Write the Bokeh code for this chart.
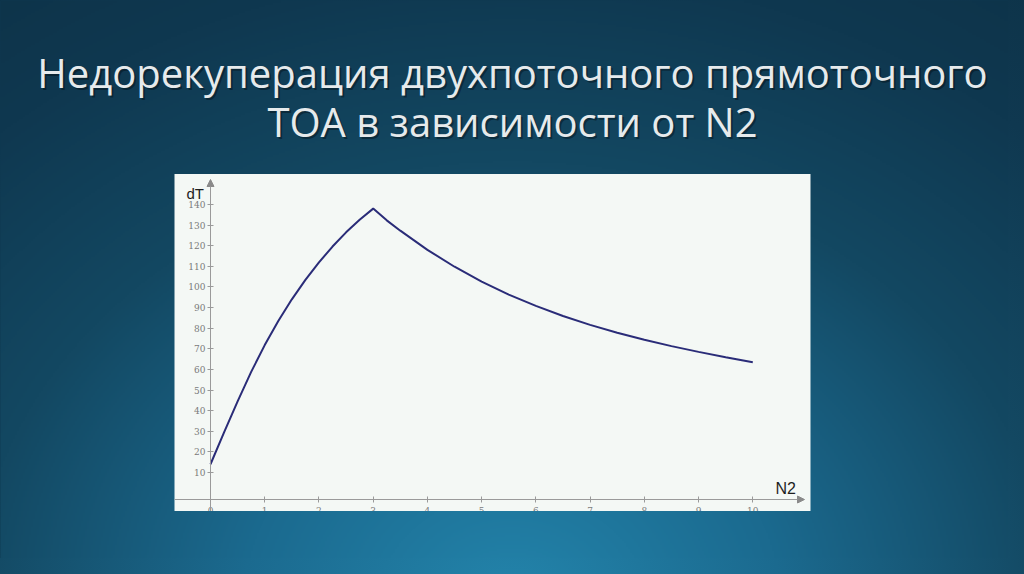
import numpy as np

from bokeh.plotting import figure
from bokeh.models import (LinearAxis, FixedTicker, Range1d, Arrow, NormalHead,
                          GlobalInlineStyleSheet)
from bokeh.core.properties import value
from bokeh.embed import file_html
from bokeh.resources import INLINE

# --- data ---
title_lines = ["Недорекуперация двухпоточного прямоточного",
               "ТОА в зависимости от N2"]
x_label = "N2"
y_label = "dT"

n2 = [0, 0.25, 0.5, 0.75, 1, 1.25, 1.5, 1.75, 2, 2.25, 2.5, 2.75, 3,
      3.25, 3.5, 4, 4.5, 5, 5.5, 6, 6.5, 7, 7.5, 8, 8.5, 9, 9.5, 10]
dT = [14, 29.5, 44.5, 58.8, 71.8, 83.5, 94, 103.4, 111.9, 119.6, 126.5, 132.6, 138,
      132.3, 127.3, 118, 109.8, 102.6, 96.3, 90.8, 85.9, 81.6, 77.8, 74.4, 71.3, 68.5,
      65.9, 63.5]

x_ticks = [0, 1, 2, 3, 4, 5, 6, 7, 8, 9, 10]
y_ticks = [10, 20, 30, 40, 50, 60, 70, 80, 90, 100, 110, 120, 130, 140]

# --- page geometry (page pixels -> data units) ---
W, H = 1008, 558
PX0, PX_PER = 210.0, 54.23     # page x of N2 = 0, pixels per unit
PY0, PY_PER = 492.6, 2.0615    # page y of dT = 0, pixels per unit


def dx(page_x):
    return (page_x - PX0) / PX_PER


def dy(page_y):
    return (PY0 - page_y) / PY_PER


def hex_rgb(h):
    return [int(h[i:i + 2], 16) for i in (1, 3, 5)]


grad_stops = [0.0, 0.35, 0.7, 1.0, 1.25]
grad_cols = [hex_rgb(c) for c in ["#2384ab", "#1b6a8f", "#134862", "#0f3850", "#0d3247"]]


def slide_rgba(px, py):
    # radial glow from the bottom centre of the slide
    u = px / 1024.0
    v = py / 574.0
    d = np.sqrt(((u - 0.5) / 0.75) ** 2 + ((v - 1.05) / 1.1) ** 2)
    img = np.empty(d.shape, dtype=np.uint32)
    view = img.view(dtype=np.uint8).reshape(d.shape + (4,))
    for ch in range(3):
        view[:, :, ch] = np.interp(d, grad_stops, [c[ch] for c in grad_cols]).astype(np.uint8)
    view[:, :, 3] = 255
    return img


p = figure(width=W, height=H, output_backend="svg", toolbar_location=None,
           x_range=Range1d(dx(0), dx(W)), y_range=Range1d(dy(H), dy(0)),
           x_axis_type=None, y_axis_type=None, min_border=0,
           border_fill_color="#0f3850", background_fill_color="#0f3850",
           outline_line_color=None)
p.stylesheets = [GlobalInlineStyleSheet(css=(
    "html, body { background: radial-gradient(75% 110% at 50% 105%, "
    "#2384ab 0%, #1b6a8f 35%, #134862 70%, #0f3850 100%, #0d3247 125%); "
    "min-height: 100%; }"))]

# slide background
cols = np.arange(504)
rows = np.arange(279)
bx, by = np.meshgrid((cols + 0.5) * 2, H - (rows + 0.5) * 2)
p.image_rgba(image=[slide_rgba(bx, by)], x=dx(0), y=dy(H),
             dw=dx(W) - dx(0), dh=dy(0) - dy(H))

# white chart card
box_l, box_r, box_t, box_b = dx(174), dx(810), dy(173.5), dy(510.5)
p.quad(left=box_l, right=box_r, top=box_t, bottom=box_b,
       fill_color="#f4f8f5", line_color=None)

# curve
p.line(n2, dT, line_color="#2a2c78", line_width=2)

axis_grey = "#9a9a9a"
label_grey = "#7a7a7a"

yaxis = LinearAxis(fixed_location=0, ticker=FixedTicker(ticks=y_ticks),
                   bounds=(box_b, dy(186)))
xaxis = LinearAxis(fixed_location=dy(499), ticker=FixedTicker(ticks=x_ticks),
                   bounds=(box_l, dx(797)))
for ax in (yaxis, xaxis):
    ax.axis_line_color = axis_grey
    ax.major_tick_line_color = axis_grey
    ax.major_tick_in = 3
    ax.major_tick_out = 3
    ax.minor_tick_line_color = None
    ax.major_label_text_font = "DejaVu Serif"
    ax.major_label_text_font_size = "9px"
    ax.major_label_text_color = label_grey
yaxis.major_label_standoff = 2
xaxis.major_label_standoff = 4
p.add_layout(yaxis, "left")
p.add_layout(xaxis, "below")

p.add_layout(Arrow(end=NormalHead(size=7, fill_color="#8a8a8a", line_color="#8a8a8a"),
                   x_start=0, y_start=dy(188), x_end=0, y_end=dy(179),
                   line_color=axis_grey))
p.add_layout(Arrow(end=NormalHead(size=7, fill_color="#8a8a8a", line_color="#8a8a8a"),
                   x_start=dx(795), y_start=dy(499), x_end=dx(804), y_end=dy(499),
                   line_color=axis_grey))

# axis names
p.text(x=[dx(186)], y=[dy(192.5)], text=[y_label], text_font=value("Liberation Sans"),
       text_font_size=value("15px"), text_color="#1e1e1e", text_baseline="alphabetic")
p.text(x=[dx(775)], y=[dy(488)], text=[x_label], text_font=value("Liberation Sans"),
       text_font_size=value("16px"), text_color="#1e1e1e", text_baseline="alphabetic")

# tick labels under the axis are cut by the card edge: cover them with the slide again
mx, my = np.meshgrid(174 + np.arange(636) + 0.5, 531 - (np.arange(21) + 0.5))
p.image_rgba(image=[slide_rgba(mx, my)], x=box_l, y=dy(531),
             dw=box_r - box_l, dh=box_b - dy(531), level="overlay")

# title with a soft shadow
tx = [dx(512), dx(512)]
ty = [dy(72), dy(121)]
p.text(x=tx, y=ty, text=title_lines, text_font=value("Open Sans"),
       text_font_size=value("40px"), text_align="center", text_baseline="alphabetic",
       text_color="#000000", text_alpha=0.35, x_offset=2, y_offset=2)
p.text(x=tx, y=ty, text=title_lines, text_font=value("Open Sans"),
       text_font_size=value("40px"), text_align="center", text_baseline="alphabetic",
       text_color="#e6eaec")

open("out.html", "w").write(file_html(p, INLINE))
